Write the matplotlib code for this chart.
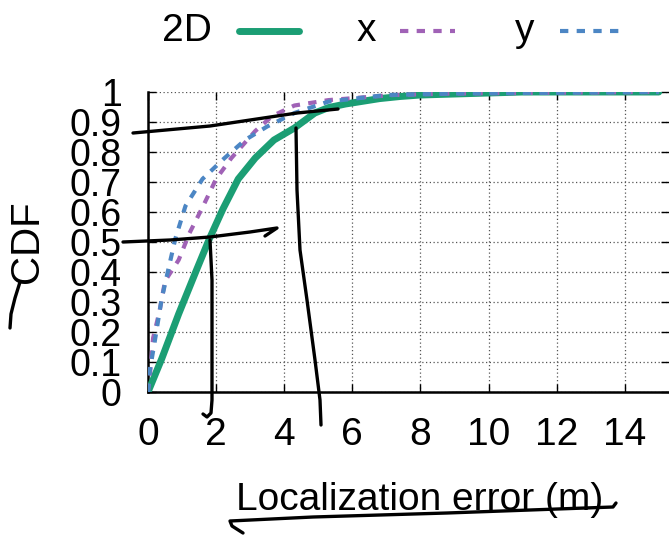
import matplotlib
matplotlib.use("Agg")
import matplotlib.pyplot as plt
from matplotlib.lines import Line2D

# CDF curves
err_2d = [0, 0.4, 0.9, 1.4, 1.8, 2.2, 2.65, 3.15, 3.7, 4.3, 4.6, 4.9, 5.3, 5.8, 6.8, 7.4, 8.0, 9.5, 11, 15]
cdf_2d = [0, 0.11, 0.26, 0.40, 0.51, 0.61, 0.71, 0.78, 0.84, 0.88, 0.905, 0.93, 0.948, 0.96, 0.978, 0.985, 0.99, 0.995, 1.0, 1.0]

err_x = [0, 0.05, 0.15, 0.34, 0.5, 0.9, 1.22, 1.62, 2.0, 2.45, 3.15, 3.65, 4.3, 5.3, 7.2, 9, 15]
cdf_x = [0, 0.05, 0.18, 0.27, 0.37, 0.44, 0.53, 0.62, 0.71, 0.78, 0.87, 0.92, 0.955, 0.973, 0.99, 0.995, 1.0]

err_y = [0, 0.05, 0.2, 0.4, 0.6, 0.8, 1.1, 1.6, 2.25, 2.85, 3.5, 4.3, 5.3, 7, 9, 15]
cdf_y = [0, 0.07, 0.17, 0.31, 0.41, 0.51, 0.62, 0.71, 0.78, 0.84, 0.885, 0.93, 0.968, 0.99, 0.995, 1.0]

series_names = ['2D', 'x', 'y']

xticks = [0, 2, 4, 6, 8, 10, 12, 14]
yticks = [0, 0.1, 0.2, 0.3, 0.4, 0.5, 0.6, 0.7, 0.8, 0.9, 1]
ytick_labels = ["0", "0.1", "0.2", "0.3", "0.4", "0.5", "0.6", "0.7", "0.8", "0.9", "1"]

# hand-drawn pen strokes, in picture pixels (origin top-left)
strokes = [
    [(133, 133), (210, 126), (297, 113), (338, 109)],
    [(296, 128), (297, 190), (300, 250), (307, 300), (315, 360), (320, 400), (321, 425)],
    [(123, 242), (170, 240), (210, 237), (250, 232), (277, 228), (265, 236)],
    [(210, 240), (212, 280), (212, 340), (212, 400), (211, 413), (207, 417), (203, 414)],
    [(20, 282), (15, 298), (11, 314), (10, 328)],
    [(243, 533), (232, 526), (230, 521), (313, 517), (447, 513), (613, 507), (616, 503)],
]

W, H = 669, 536
plt.rcParams['font.family'] = ['Liberation Sans', 'DejaVu Sans']


def fx(px):
    return px / W


def fy(py):
    return 1 - py / H


fig = plt.figure(figsize=(W / 100, H / 100), dpi=100)
ax = fig.add_axes([fx(148), fy(392), 1 - fx(148), 300 / H])

green = '#1b9e74'
purple = '#a062b6'
blue = '#4c86c4'
styles = [
    dict(color=green, lw=5, ls='-', solid_capstyle='round'),
    dict(color=purple, lw=3, ls=(0, (2, 2))),
    dict(color=blue, lw=3, ls=(0, (2, 2))),
]

ax.plot(err_2d, cdf_2d, zorder=3, **styles[0])
ax.plot(err_x, cdf_x, zorder=4, **styles[1])
ax.plot(err_y, cdf_y, zorder=4, **styles[2])

ax.set_xlim(0, 15.3)
ax.set_ylim(0, 1)
ax.set_xticks(xticks)
ax.set_xticklabels([str(t) for t in xticks])
ax.set_yticks(yticks)
ax.set_yticklabels(ytick_labels)
ax.grid(True, color='#555555', ls=(0, (1, 2)), lw=0.9)
ax.tick_params(direction='in', length=6, width=1, top=True, right=True)
ax.tick_params(axis='y', pad=19, labelsize=27)
ax.tick_params(axis='x', pad=18, labelsize=28)
ax.spines['top'].set_visible(False)
ax.spines['right'].set_visible(False)
ax.spines['left'].set_linewidth(1.8)
ax.spines['bottom'].set_linewidth(1.8)

fig.text(fx(420), fy(510), 'Localization error (m)', fontsize=28,
         ha='center', va='baseline')
fig.text(fx(27), fy(242), 'CDF', fontsize=29, rotation=90,
         ha='center', va='center')

# key along the top: label, then a sample of the line
key_text_right = [212, 376, 534]
key_line = [(239, 299), (400, 455), (560, 620)]
key_y = 31
for name, tx, (x0, x1), st in zip(series_names, key_text_right, key_line, styles):
    fig.text(fx(tx), fy(key_y), name, fontsize=28, ha='right', va='center')
    fig.add_artist(Line2D([fx(x0), fx(x1)], [fy(key_y), fy(key_y)],
                          transform=fig.transFigure, **st))

for s in strokes:
    xs = [fx(p[0]) for p in s]
    ys = [fy(p[1]) for p in s]
    fig.add_artist(Line2D(xs, ys, transform=fig.transFigure, color='black',
                          lw=2.4, solid_capstyle='round', solid_joinstyle='round'))

fig.savefig('out.png', dpi=100)
